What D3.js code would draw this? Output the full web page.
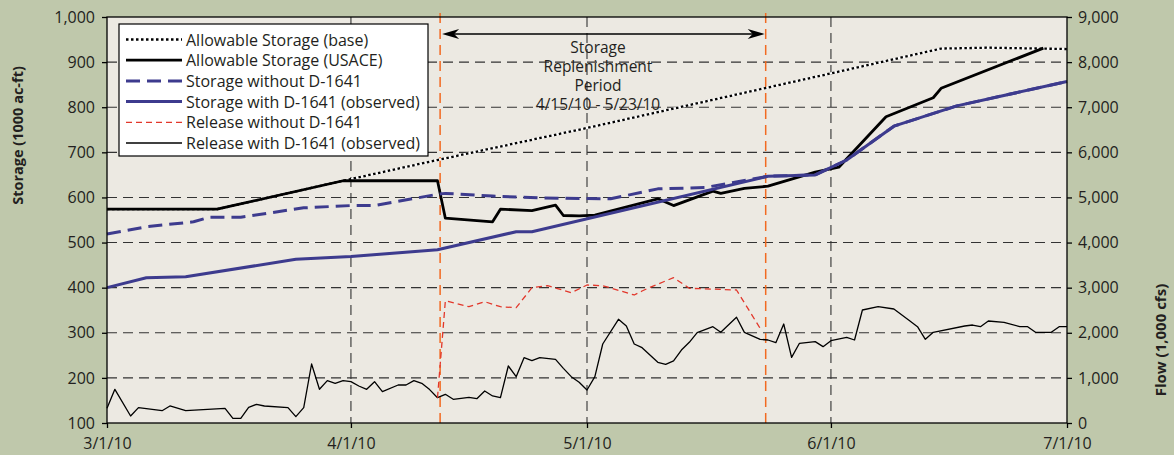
<!DOCTYPE html>
<html><head><meta charset="utf-8">
<script src="https://cdn.jsdelivr.net/npm/d3@7"></script>
<style>
html,body{margin:0;padding:0;background:#BFC8AB;}
text{font-family:"Open Sans",sans-serif;fill:#231F20;}
</style></head>
<body><svg id="chart" width="1174" height="455"></svg>
<script>
// ---------------- data ----------------
const storageTicks = [100,200,300,400,500,600,700,800,900,1000];
const flowTicks = [0,1000,2000,3000,4000,5000,6000,7000,8000,9000];
const monthTicks = ["3/1/10","4/1/10","5/1/10","6/1/10","7/1/10"];

const baseDates = ["3/1/10","3/15/10","3/31/10","4/12/10","5/1/10","6/1/10","6/15/10","6/21/10","7/1/10"];
const baseValues = [574,574,637,683,754,875,930,932,929];

const usaceDates = ["3/1/10","3/15/10","3/31/10","4/12/10","4/13/10","4/19/10","4/20/10","4/24/10","4/27/10","4/28/10","4/30/10","5/2/10","5/10/10","5/12/10","5/17/10","5/18/10","5/21/10","5/24/10","5/30/10","6/2/10","6/8/10","6/14/10","6/15/10","6/28/10"];
const usaceValues = [574,574,637,637,554,546,574,571,583,560,559,561,597,582,614,609,620,625,656,667,779,821,842,931];

const withoutDates = ["3/1/10","3/6/10","3/12/10","3/14/10","3/18/10","3/26/10","4/1/10","4/4/10","4/12/10","4/13/10","4/19/10","4/25/10","5/4/10","5/10/10","5/16/10","5/24/10","5/30/10","6/3/10","6/9/10","6/17/10","7/1/10"];
const withoutValues = [519,535,546,556,556,577,582,582,607,609,603,599,597,619,622,647,650,683,758,803,857];

const withDates = ["3/1/10","3/6/10","3/11/10","3/25/10","4/1/10","4/12/10","4/22/10","4/24/10","5/24/10","5/30/10","6/3/10","6/9/10","6/17/10","7/1/10"];
const withValues = [400,422,424,463,469,484,524,524,647,650,683,758,803,857];

const relWithoutDates = ["4/12/10","4/13/10","4/16/10","4/18/10","4/20/10","4/22/10","4/24/10","4/26/10","4/29/10","5/1/10","5/3/10","5/7/10","5/8/10","5/9/10","5/12/10","5/14/10","5/20/10","5/23/10"];
const relWithoutValues = [561,2711,2578,2689,2578,2556,2999,3044,2889,3059,3044,2838,2926,3008,3221,2986,2948,2100];

const relWithDates = [
 "3/1/10","3/2/10","3/4/10","3/5/10","3/8/10","3/9/10","3/11/10","3/16/10","3/17/10","3/18/10",
 "3/19/10","3/20/10","3/21/10","3/24/10","3/25/10","3/26/10","3/27/10","3/28/10","3/29/10","3/30/10",
 "3/31/10","4/1/10","4/2/10","4/3/10","4/4/10","4/5/10","4/7/10","4/8/10","4/9/10","4/10/10",
 "4/11/10","4/12/10","4/13/10","4/14/10","4/16/10","4/17/10","4/18/10","4/19/10","4/20/10","4/21/10",
 "4/22/10","4/23/10","4/24/10","4/25/10","4/27/10","4/28/10","4/29/10","4/30/10","5/1/10","5/2/10",
 "5/3/10","5/5/10","5/6/10","5/7/10","5/8/10","5/10/10","5/11/10","5/12/10","5/13/10","5/14/10",
 "5/15/10","5/17/10","5/18/10","5/20/10","5/21/10","5/23/10","5/24/10","5/25/10","5/26/10","5/27/10",
 "5/28/10","5/30/10","5/31/10","6/1/10","6/3/10","6/4/10","6/5/10","6/7/10","6/9/10","6/11/10",
 "6/12/10","6/13/10","6/14/10","6/18/10","6/19/10","6/20/10","6/21/10","6/23/10","6/25/10","6/26/10",
 "6/27/10","6/29/10","6/30/10","7/1/10"];
const relWithValues = [
 326,747,155,340,273,377,273,326,104,104,
 348,414,377,340,140,340,1308,747,938,880,
 938,916,820,747,916,694,842,842,938,880,
 740,561,636,525,570,539,709,599,561,1264,
 1027,1448,1382,1448,1412,1212,1027,902,732,1027,
 1751,2299,2150,1751,1669,1345,1301,1375,1618,1789,
 2002,2135,2010,2343,2010,1855,1840,1780,2195,1456,
 1767,1803,1692,1825,1900,1840,2505,2578,2527,2268,
 2135,1855,2010,2150,2172,2135,2261,2232,2135,2135,
 2010,2010,2135,2135];

const periodStart = "2010-04-12T08:00";
const periodEnd = "2010-05-23T17:00";
const annotationLines = ["Storage","Replenishment","Period","4/15/10 - 5/23/10"];

const legendItems = [
 {label:"Allowable Storage (base)", key:"base"},
 {label:"Allowable Storage (USACE)", key:"usace"},
 {label:"Storage without D-1641", key:"without"},
 {label:"Storage with D-1641 (observed)", key:"with"},
 {label:"Release without D-1641", key:"relWithout"},
 {label:"Release with D-1641 (observed)", key:"relWith"}
];

// ---------------- drawing ----------------
const parse = d3.timeParse("%m/%d/%y");
const parseIso = d3.isoParse;
const svg = d3.select("#chart");
const L = 107, R = 1067, T = 17, B = 423;

const x = d3.scaleTime().domain([parse("3/1/10"), parse("7/1/10")]).range([L, R]);
const yS = d3.scaleLinear().domain([100, 1000]).range([B, T]);
const yF = d3.scaleLinear().domain([0, 9000]).range([B, T]);

const navy = "#3D3B8E", red = "#E2372B", orange = "#F26A21";

const styles = {
  base: {stroke:"#000", width:2.3, dash:"2.5,2.5", under:"#fff"},
  usace: {stroke:"#000", width:2.8, dash:null},
  without: {stroke:navy, width:3, dash:"14,7"},
  with: {stroke:navy, width:3, dash:null},
  relWithout: {stroke:red, width:1.3, dash:"6,4"},
  relWith: {stroke:"#000", width:1.3, dash:null}
};

svg.append("rect").attr("width",1174).attr("height",455).attr("fill","#BFC8AB");
svg.append("rect").attr("x",L).attr("y",T).attr("width",R-L).attr("height",B-T).attr("fill","#ECE9E2");

// gridlines
svg.append("g").selectAll("line").data(storageTicks.filter(v=>v>100 && v<1000)).join("line")
  .attr("x1",L).attr("x2",R).attr("y1",d=>yS(d)).attr("y2",d=>yS(d))
  .attr("stroke","#333").attr("stroke-width",1.1).attr("stroke-dasharray","10,6");
svg.append("g").selectAll("line").data(monthTicks.slice(1,4).map(parse)).join("line")
  .attr("x1",d=>x(d)).attr("x2",d=>x(d)).attr("y1",T).attr("y2",B)
  .attr("stroke","#333").attr("stroke-width",1.1).attr("stroke-dasharray","10,6");

// period lines
[periodStart, periodEnd].forEach(s=>{
  svg.append("line").attr("x1",x(parseIso(s))).attr("x2",x(parseIso(s))).attr("y1",13).attr("y2",B)
    .attr("stroke",orange).attr("stroke-width",1.5).attr("stroke-dasharray","10,6");
});

function series(dates, values, yScale){
  return dates.map((d,i)=>[x(parse(d)), yScale(values[i])]);
}
const lineGen = d3.line();
function drawLine(pts, st){
  if(st.under){
    svg.append("path").attr("d",lineGen(pts)).attr("fill","none").attr("stroke",st.under).attr("stroke-width",st.width);
  }
  svg.append("path").attr("d",lineGen(pts)).attr("fill","none").attr("stroke",st.stroke)
    .attr("stroke-width",st.width).attr("stroke-dasharray",st.dash).attr("stroke-linejoin","round");
}

drawLine(series(relWithDates, relWithValues, yF), styles.relWith);
drawLine(series(relWithoutDates, relWithoutValues, yF), styles.relWithout);
drawLine(series(baseDates, baseValues, yS), styles.base);
drawLine(series(usaceDates, usaceValues, yS), styles.usace);
drawLine(series(withoutDates, withoutValues, yS), styles.without);
drawLine(series(withDates, withValues, yS), styles.with);

// frame
svg.append("rect").attr("x",L).attr("y",T).attr("width",R-L).attr("height",B-T)
  .attr("fill","none").attr("stroke","#000").attr("stroke-width",1.3);

// axes
const fmtDate = d3.timeFormat("%-m/%-d/%y");
const xAxis = svg.append("g").attr("transform",`translate(0,${B})`)
  .call(d3.axisBottom(x).tickValues(monthTicks.map(parse)).tickFormat(fmtDate).tickSize(5).tickPadding(10));
const yAxisL = svg.append("g").attr("transform",`translate(${L},0)`)
  .call(d3.axisLeft(yS).tickValues(storageTicks).tickFormat(d3.format(",")).tickSize(5).tickPadding(7));
const yAxisR = svg.append("g").attr("transform",`translate(${R},0)`)
  .call(d3.axisRight(yF).tickValues(flowTicks).tickFormat(d3.format(",")).tickSize(5).tickPadding(6));
[xAxis,yAxisL,yAxisR].forEach(g=>{
  g.select(".domain").remove();
  g.selectAll(".tick line").attr("stroke","#000").attr("stroke-width",1.3);
  g.selectAll(".tick text").attr("font-size",16).attr("font-family","'Open Sans',sans-serif").attr("fill","#231F20");
});

// axis titles
svg.append("text").attr("transform","translate(17,135.5) rotate(-90)")
  .attr("text-anchor","middle").attr("dominant-baseline","central")
  .attr("font-size",14.5).attr("font-weight","bold").text("Storage (1000 ac-ft)");
svg.append("text").attr("transform","translate(1160,340) rotate(-90)")
  .attr("text-anchor","middle").attr("dominant-baseline","central")
  .attr("font-size",15).attr("font-weight","bold").text("Flow (1,000 cfs)");

// annotation arrow
const ax1 = x(parseIso(periodStart))+2, ax2 = x(parseIso(periodEnd))-1, ay = 34;
svg.append("line").attr("x1",ax1+4).attr("x2",ax2-4).attr("y1",ay).attr("y2",ay).attr("stroke","#000").attr("stroke-width",1.3);
svg.append("path").attr("d",`M${ax1},${ay} L${ax1+17},${ay-5} L${ax1+12},${ay} L${ax1+17},${ay+5} Z`).attr("fill","#000");
svg.append("path").attr("d",`M${ax2},${ay} L${ax2-17},${ay-5} L${ax2-12},${ay} L${ax2-17},${ay+5} Z`).attr("fill","#000");
svg.append("g").selectAll("text").data(annotationLines).join("text")
  .attr("x",598).attr("y",(d,i)=>52.5+i*19.3).attr("text-anchor","middle").attr("font-size",15.5).text(d=>d);

// legend
const lg = svg.append("g");
lg.append("rect").attr("x",119).attr("y",24).attr("width",309).attr("height",132)
  .attr("fill","#fff").attr("stroke","#000").attr("stroke-width",1.2);
legendItems.forEach((it,i)=>{
  const cy = 39.5 + i*20.7;
  const st = styles[it.key];
  lg.append("line").attr("x1",126).attr("x2",182).attr("y1",cy).attr("y2",cy)
    .attr("stroke",st.stroke).attr("stroke-width",st.width).attr("stroke-dasharray",st.dash);
  lg.append("text").attr("x",186).attr("y",cy+6).attr("font-size",16).text(it.label);
});
</script></body></html>
